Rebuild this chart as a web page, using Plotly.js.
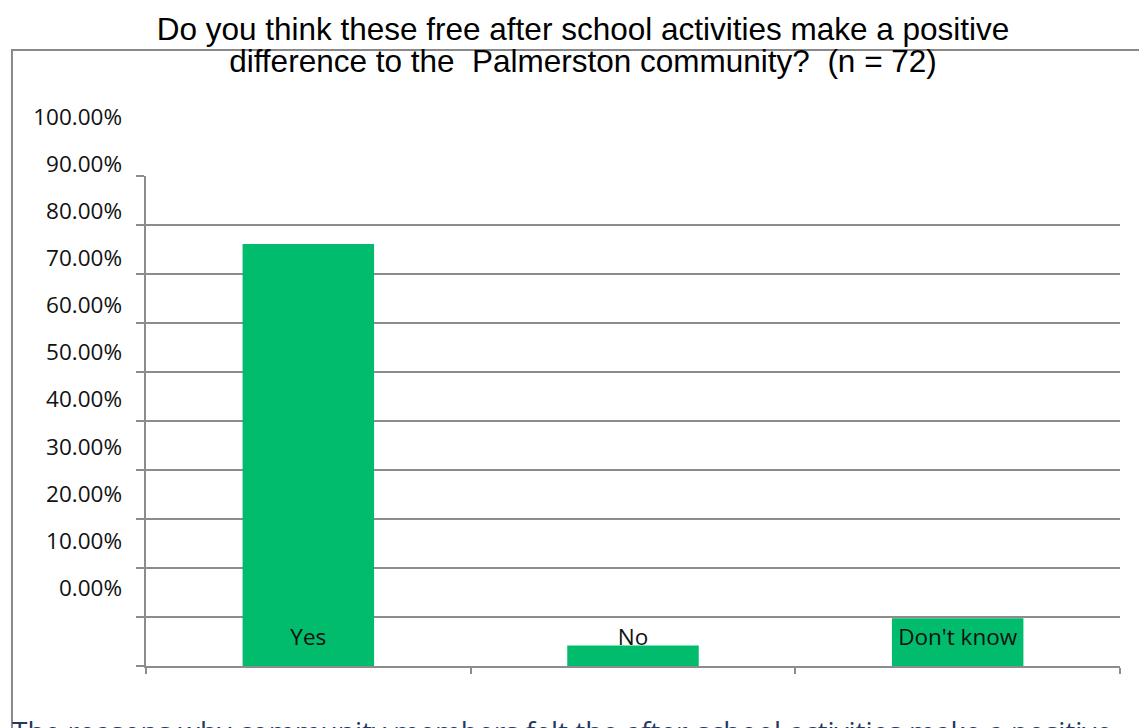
<!DOCTYPE html>
<html>
<head>
<meta charset="utf-8">
<script src="https://cdn.plot.ly/plotly-3.0.1.min.js"></script>
<style>html,body{margin:0;padding:0;background:#fff;}#chart{width:1139px;height:728px;}</style>
</head>
<body>
<div id="chart"></div>
<script>
// Data
var categories = ["Yes", "No", "Don't know"];
var percentValues = [86.11, 4.17, 9.72];
var yTickValues = [0, 10, 20, 30, 40, 50, 60, 70, 80, 90, 100];
var yTickLabels = ["0.00%", "10.00%", "20.00%", "30.00%", "40.00%", "50.00%", "60.00%", "70.00%", "80.00%", "90.00%", "100.00%"];
var chartTitle = "Do you think these free after school activities make a positive<br>difference to the \u00a0Palmerston community? \u00a0(n = 72)";
var footerText = "The reasons why community members felt the after-school activities make a positive";

var gridColor = "#8c8c8c";
var labelFont = {family: "Open Sans, Lato, sans-serif", size: 22.5, color: "#111"};

var traces = [
  {
    type: "bar",
    x: categories,
    y: percentValues,
    xaxis: "x",
    yaxis: "y",
    width: 0.405,
    marker: {color: "#00BC6C", line: {width: 0}},
    hoverinfo: "skip",
    showlegend: false
  },
  {
    type: "scatter",
    mode: "markers",
    x: categories,
    y: percentValues,
    xaxis: "x",
    yaxis: "y2",
    marker: {opacity: 0},
    hoverinfo: "skip",
    showlegend: false
  }
];

var layout = {
  width: 1139,
  height: 728,
  margin: {l: 146, r: 19, t: 100, b: 62, pad: 0},
  paper_bgcolor: "#ffffff",
  plot_bgcolor: "rgba(0,0,0,0)",
  title: {
    text: chartTitle,
    font: {family: "Liberation Sans, Arial, sans-serif", size: 31.5, color: "#000"},
    x: 583 / 1139,
    xanchor: "center",
    xref: "container",
    y: 0.99,
    yanchor: "top",
    yref: "container"
  },
  xaxis: {
    type: "category",
    range: [-0.5, 2.5],
    showgrid: false,
    zeroline: false,
    showline: true,
    linecolor: gridColor,
    linewidth: 2,
    ticks: "outside",
    tickson: "boundaries",
    ticklen: 6,
    tickwidth: 2,
    tickcolor: gridColor,
    tickfont: labelFont,
    ticklabelstandoff: -50,
    fixedrange: true
  },
  yaxis: {
    domain: [0, 0.8657],
    range: [0, 100],
    tickvals: yTickValues,
    showticklabels: false,
    showgrid: true,
    gridcolor: gridColor,
    gridwidth: 2,
    zeroline: false,
    showline: true,
    linecolor: gridColor,
    linewidth: 2,
    ticks: "outside",
    ticklen: 8,
    tickwidth: 2,
    tickcolor: gridColor,
    fixedrange: true
  },
  yaxis2: {
    domain: [0.1378, 0.9700],
    range: [0, 100],
    anchor: "x",
    side: "left",
    tickvals: yTickValues,
    ticktext: yTickLabels,
    tickfont: labelFont,
    showgrid: false,
    zeroline: false,
    showline: false,
    ticks: "",
    ticklabelstandoff: 23,
    fixedrange: true
  },
  shapes: [
    {
      type: "rect",
      xref: "paper", yref: "paper",
      x0: -0.1376, x1: 1.2,
      y0: -0.3, y1: 1.0883,
      line: {color: "#898989", width: 2},
      fillcolor: "rgba(0,0,0,0)",
      layer: "below"
    }
  ],
  annotations: [
    {
      text: footerText,
      xref: "paper", yref: "paper",
      x: -0.1396, xanchor: "left",
      y: -0.077, yanchor: "top",
      showarrow: false,
      font: {family: "Open Sans, Lato, sans-serif", size: 28, color: "#23395d"}
    }
  ]
};

function tightenTitle(gd) {
  // match the original's tight (about 1.0) title line spacing and place its block
  var t = gd.querySelector(".g-gtitle text.gtitle") || gd.querySelector("text.gtitle");
  if (!t) return;
  var lines = t.querySelectorAll("tspan.line");
  for (var i = 1; i < lines.length; i++) {
    lines[i].setAttribute("dy", "32");
  }
  var bb = t.getBBox();
  var shift = 11 - bb.y;
  t.setAttribute("transform", "translate(0," + shift + ")");
}

Plotly.newPlot("chart", traces, layout, {displayModeBar: false, staticPlot: true}).then(function (gd) {
  tightenTitle(gd);
});
</script>
</body>
</html>
